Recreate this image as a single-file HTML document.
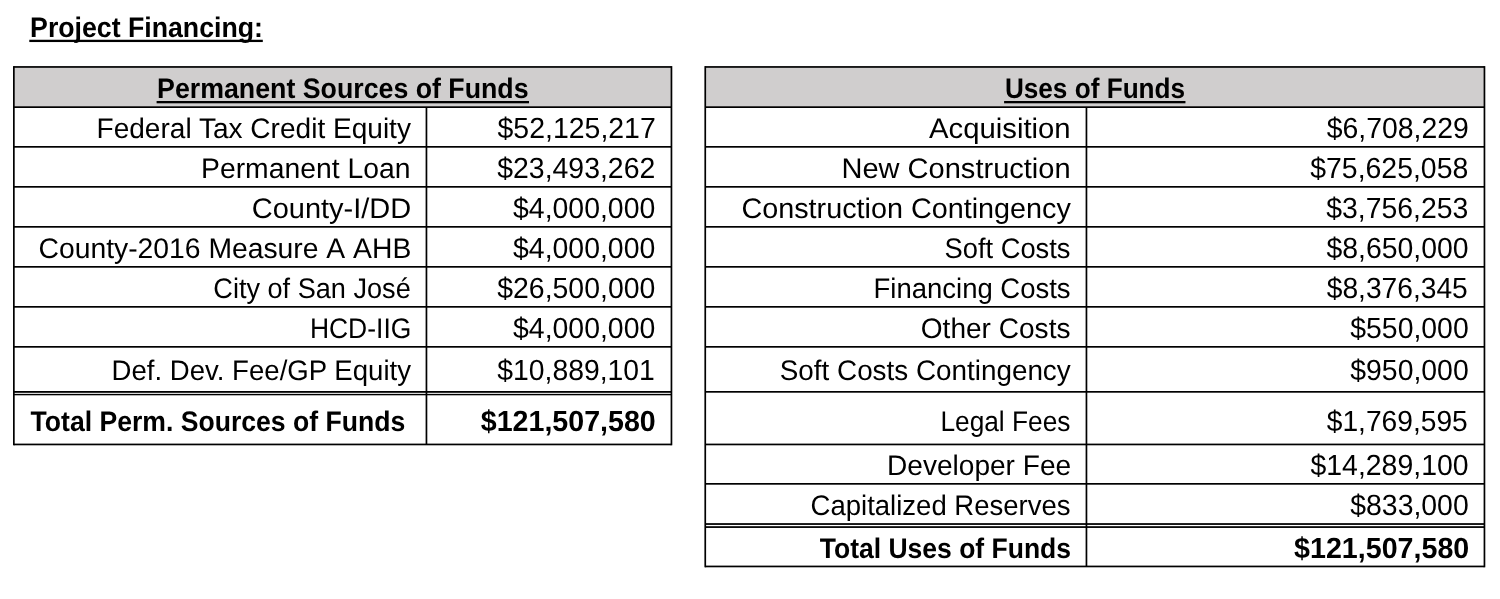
<!DOCTYPE html>
<html lang="en"><head><meta charset="utf-8"><title>Project Financing</title>
<style>
html,body{margin:0;padding:0;background:#fff}
body{position:relative;width:1500px;height:599px;overflow:hidden;font-family:"Liberation Sans",sans-serif;color:#000}
svg{position:absolute;left:0;top:0}
.t{position:absolute;white-space:nowrap;font-size:28.3px;line-height:30px;transform-origin:0 0;font-kerning:normal;text-rendering:geometricPrecision}
.b{font-weight:bold}
.n{font-size:29.2px}
</style></head><body>
<svg width="1500" height="599" viewBox="0 0 1500 599">
<rect x="13.85" y="66.95" width="657.6" height="40.2" fill="#d0cece"/>
<rect x="13.85" y="66.1" width="657.6" height="1.7" fill="#000"/>
<rect x="13.85" y="106.3" width="657.6" height="1.7" fill="#000"/>
<rect x="13.85" y="146" width="657.6" height="1.7" fill="#000"/>
<rect x="13.85" y="186" width="657.6" height="1.7" fill="#000"/>
<rect x="13.85" y="226" width="657.6" height="1.7" fill="#000"/>
<rect x="13.85" y="266" width="657.6" height="1.7" fill="#000"/>
<rect x="13.85" y="306" width="657.6" height="1.7" fill="#000"/>
<rect x="13.85" y="346" width="657.6" height="1.7" fill="#000"/>
<rect x="13.85" y="391" width="657.6" height="1.8" fill="#000"/>
<rect x="13.85" y="393.85" width="657.6" height="1.45" fill="#000"/>
<rect x="13.85" y="443.6" width="657.6" height="1.7" fill="#000"/>
<rect x="13" y="66.1" width="1.7" height="379.2" fill="#000"/>
<rect x="670.6" y="66.1" width="1.7" height="379.2" fill="#000"/>
<rect x="425.6" y="107.15" width="1.7" height="337.3" fill="#000"/>
<rect x="705.25" y="66.95" width="779.2" height="40.2" fill="#d0cece"/>
<rect x="705.25" y="66.1" width="779.2" height="1.7" fill="#000"/>
<rect x="705.25" y="106.3" width="779.2" height="1.7" fill="#000"/>
<rect x="705.25" y="146" width="779.2" height="1.7" fill="#000"/>
<rect x="705.25" y="186" width="779.2" height="1.7" fill="#000"/>
<rect x="705.25" y="226" width="779.2" height="1.7" fill="#000"/>
<rect x="705.25" y="266" width="779.2" height="1.7" fill="#000"/>
<rect x="705.25" y="306" width="779.2" height="1.7" fill="#000"/>
<rect x="705.25" y="346" width="779.2" height="1.7" fill="#000"/>
<rect x="705.25" y="391" width="779.2" height="1.7" fill="#000"/>
<rect x="705.25" y="443.6" width="779.2" height="1.7" fill="#000"/>
<rect x="705.25" y="483" width="779.2" height="1.7" fill="#000"/>
<rect x="705.25" y="523.15" width="779.2" height="1.75" fill="#000"/>
<rect x="705.25" y="526.2" width="779.2" height="1.75" fill="#000"/>
<rect x="705.25" y="565.6" width="779.2" height="1.7" fill="#000"/>
<rect x="704.4" y="66.1" width="1.7" height="501.2" fill="#000"/>
<rect x="1483.6" y="66.1" width="1.7" height="501.2" fill="#000"/>
<rect x="1085.6" y="107.15" width="1.7" height="459.3" fill="#000"/>
<rect x="29.3" y="39.75" width="233.5" height="2.3" fill="#000"/>
<rect x="156.6" y="101" width="372.4" height="2.3" fill="#000"/>
<rect x="1004.1" y="101" width="181.35" height="2.3" fill="#000"/>
</svg>
<div class="title">
<span class="t b" style="left:30px;top:12px;transform:translateX(0.11px) scaleX(0.9432)">Project Financing:</span>
</div>
<div class="sources" role="table" aria-label="Permanent Sources of Funds">
<span class="t b" style="left:157px;top:73px;transform:translateX(0.11px) scaleX(0.9449)">Permanent Sources of Funds</span>
<span class="t" style="left:96px;top:113px;transform:translateX(0.52px) scaleX(0.9913)">Federal Tax Credit Equity</span>
<span class="t" style="left:200px;top:153px;transform:translateX(1.00px) scaleX(1.0012)">Permanent Loan</span>
<span class="t" style="left:251px;top:193px;transform:translateX(0.71px) scaleX(1.0245)">County-I/DD</span>
<span class="t" style="font-kerning:none;left:38px;top:233px;transform:translateX(0.50px) scaleX(1.0000)">County-2016 Measure A AHB</span>
<span class="t" style="left:213px;top:273px;transform:translateX(0.31px) scaleX(0.9582)">City of San José</span>
<span class="t" style="left:309px;top:313px;transform:translateX(0.90px) scaleX(0.9351)">HCD-IIG</span>
<span class="t" style="left:111px;top:355px;transform:translateX(0.56px) scaleX(0.9746)">Def. Dev. Fee/GP Equity</span>
<span class="t b" style="left:30px;top:406px;transform:translateX(0.52px) scaleX(0.9396)">Total Perm. Sources of Funds</span>
<span class="t n" style="left:497px;top:114px;transform:translateX(0.51px) scaleX(0.9750)">$52,125,217</span>
<span class="t n" style="left:497px;top:154px;transform:translateX(0.26px) scaleX(0.9735)">$23,493,262</span>
<span class="t n" style="left:513px;top:194px;transform:translateX(0.01px) scaleX(0.9740)">$4,000,000</span>
<span class="t n" style="left:513px;top:234px;transform:translateX(0.01px) scaleX(0.9740)">$4,000,000</span>
<span class="t n" style="left:497px;top:274px;transform:translateX(0.26px) scaleX(0.9736)">$26,500,000</span>
<span class="t n" style="left:513px;top:314px;transform:translateX(0.01px) scaleX(0.9740)">$4,000,000</span>
<span class="t n" style="left:497px;top:356px;transform:translateX(0.26px) scaleX(0.9704)">$10,889,101</span>
<span class="t b n" style="left:480px;top:407px;transform:translateX(0.76px) scaleX(0.9802)">$121,507,580</span>
</div>
<div class="uses" role="table" aria-label="Uses of Funds">
<span class="t b" style="left:1004px;top:73px;transform:translateX(0.88px) scaleX(0.9245)">Uses of Funds</span>
<span class="t" style="left:929px;top:113px;transform:translateX(0.00px) scaleX(1.0352)">Acquisition</span>
<span class="t" style="left:841px;top:153px;transform:translateX(0.44px) scaleX(1.0262)">New Construction</span>
<span class="t" style="left:741px;top:193px;transform:translateX(0.48px) scaleX(1.0163)">Construction Contingency</span>
<span class="t" style="left:944px;top:233px;transform:translateX(0.54px) scaleX(0.9649)">Soft Costs</span>
<span class="t" style="left:873px;top:273px;transform:translateX(0.56px) scaleX(0.9712)">Financing Costs</span>
<span class="t" style="left:920px;top:313px;transform:translateX(0.76px) scaleX(0.9916)">Other Costs</span>
<span class="t" style="left:779px;top:355px;transform:translateX(0.77px) scaleX(0.9839)">Soft Costs Contingency</span>
<span class="t" style="left:940px;top:406px;transform:translateX(0.41px) scaleX(0.9287)">Legal Fees</span>
<span class="t" style="left:887px;top:450px;transform:translateX(0.02px) scaleX(0.9918)">Developer Fee</span>
<span class="t" style="left:810px;top:490px;transform:translateX(0.54px) scaleX(0.9726)">Capitalized Reserves</span>
<span class="t b" style="left:819px;top:533px;transform:translateX(0.77px) scaleX(0.9363)">Total Uses of Funds</span>
<span class="t n" style="left:1326px;top:114px;transform:translateX(0.76px) scaleX(0.9723)">$6,708,229</span>
<span class="t n" style="left:1310px;top:154px;transform:translateX(0.26px) scaleX(0.9735)">$75,625,058</span>
<span class="t n" style="left:1326px;top:194px;transform:translateX(0.26px) scaleX(0.9723)">$3,756,253</span>
<span class="t n" style="left:1326px;top:234px;transform:translateX(0.51px) scaleX(0.9723)">$8,650,000</span>
<span class="t n" style="left:1326px;top:274px;transform:translateX(0.77px) scaleX(0.9654)">$8,376,345</span>
<span class="t n" style="left:1350px;top:314px;transform:translateX(0.26px) scaleX(0.9729)">$550,000</span>
<span class="t n" style="left:1350px;top:356px;transform:translateX(0.26px) scaleX(0.9729)">$950,000</span>
<span class="t n" style="left:1326px;top:407px;transform:translateX(0.77px) scaleX(0.9654)">$1,769,595</span>
<span class="t n" style="left:1310px;top:451px;transform:translateX(0.51px) scaleX(0.9736)">$14,289,100</span>
<span class="t n" style="left:1350px;top:491px;transform:translateX(0.26px) scaleX(0.9729)">$833,000</span>
<span class="t b n" style="left:1294px;top:534px;transform:translateX(0.01px) scaleX(0.9816)">$121,507,580</span>
</div>
</body></html>
